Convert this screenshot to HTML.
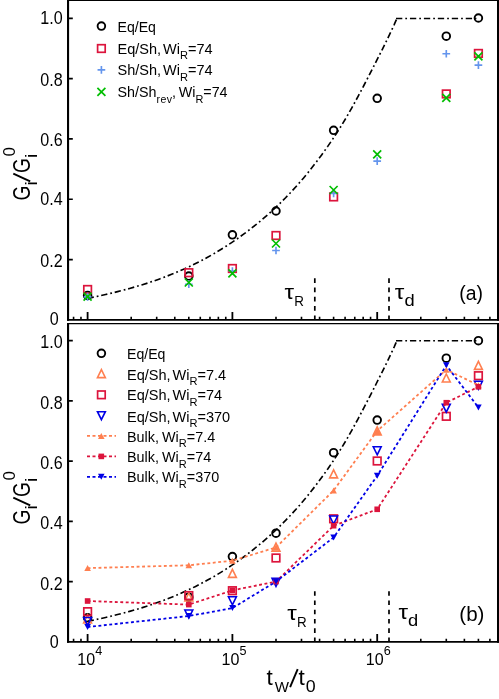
<!DOCTYPE html>
<html><head><meta charset="utf-8"><title>chart</title>
<style>
html,body{margin:0;padding:0;background:#fff;}
body{width:499px;height:699px;overflow:hidden;font-family:"Liberation Sans",sans-serif;}
svg{display:block;will-change:transform;}
</style></head><body>
<svg width="499" height="699" viewBox="0 0 499 699" font-family="Liberation Sans, sans-serif" fill="#000">
<rect width="499" height="699" fill="#fff"/>
<g id="pa">
<path d="M87.6 319.85v-7.8M232.4 319.85v-7.8M377.2 319.85v-7.8" stroke="#000" stroke-width="1.8" fill="none"/>
<path d="M73.57 319.85v-3.0M80.97 319.85v-3.0M131.19 319.85v-3.0M156.69 319.85v-3.0M174.78 319.85v-3.0M188.81 319.85v-3.0M200.28 319.85v-3.0M209.97 319.85v-3.0M218.37 319.85v-3.0M225.77 319.85v-3.0M275.99 319.85v-3.0M301.49 319.85v-3.0M319.58 319.85v-3.0M333.61 319.85v-3.0M345.08 319.85v-3.0M354.77 319.85v-3.0M363.17 319.85v-3.0M370.57 319.85v-3.0M420.79 319.85v-3.0M446.29 319.85v-3.0M464.38 319.85v-3.0M478.41 319.85v-3.0M489.88 319.85v-3.0" stroke="#000" stroke-width="1.6" fill="none"/>
<text transform="translate(58.7 324.85) scale(0.915 1)" font-size="17.6" text-anchor="end">0</text>
<text transform="translate(62.6 266.64) scale(0.915 1)" font-size="17.6" text-anchor="end">0.2</text>
<text transform="translate(62.6 205.43) scale(0.915 1)" font-size="17.6" text-anchor="end">0.4</text>
<text transform="translate(62.6 145.92) scale(0.915 1)" font-size="17.6" text-anchor="end">0.6</text>
<text transform="translate(62.6 85.61) scale(0.915 1)" font-size="17.6" text-anchor="end">0.8</text>
<text transform="translate(62.6 24.2) scale(0.915 1)" font-size="17.6" text-anchor="end">1.0</text>
<path d="M68.05 259.54H72.8M68.05 199.23H72.8M68.05 138.92H72.8M68.05 78.61H72.8M68.05 18.3H72.8" stroke="#000" stroke-width="1.7" fill="none"/>
<path d="M314.8 278.3V319.85" stroke="#000" stroke-width="1.7" stroke-dasharray="4.6 4.67" fill="none"/>
<path d="M389 278.3V319.85" stroke="#000" stroke-width="1.7" stroke-dasharray="4.6 4.67" fill="none"/>
<path d="M87.6 298.36L93.6 297.13L99.6 295.85L105.6 294.51L111.6 293.11L117.6 291.64L123.6 290.1L129.6 288.47L135.6 286.76L141.6 284.96L147.6 283.05L153.6 281.04L159.6 278.92L165.6 276.68L171.6 274.32L177.6 271.83L183.6 269.21L189.6 266.44L195.6 263.53L201.6 260.46L207.6 257.24L213.6 253.85L219.6 250.28L225.6 246.54L231.6 242.62L237.6 238.51L243.6 234.2L249.6 229.69L255.6 224.97L261.6 220.03L267.6 214.85L273.6 209.42L279.6 203.72L285.6 197.74L291.6 191.46L297.6 184.86L303.6 177.94L309.6 170.66L315.6 163L321.64 154.92L327.75 146.4L333.88 137.41L340 127.9L346.08 117.87L352.1 107.32L358.1 96.34L364.1 85.01L370.1 73.42L376.1 61.65L382.1 49.76L388.1 37.6L394.1 24.85L396.9 18.5" stroke="#000" stroke-width="1.65" fill="none" stroke-dasharray="6.3 3 1.75 2.830"/>
<path d="M396 18.5H476.4" stroke="#000" stroke-width="1.65" fill="none" stroke-dasharray="6.3 3 1.75 2.9"/>
<circle cx="87.6" cy="295.39" r="3.8" fill="none" stroke="#000000" stroke-width="1.9"/>
<circle cx="188.81" cy="276.03" r="3.8" fill="none" stroke="#000000" stroke-width="1.9"/>
<circle cx="232.4" cy="234.8" r="3.8" fill="none" stroke="#000000" stroke-width="1.9"/>
<circle cx="275.99" cy="211" r="3.8" fill="none" stroke="#000000" stroke-width="1.9"/>
<circle cx="333.61" cy="130.29" r="3.8" fill="none" stroke="#000000" stroke-width="1.9"/>
<circle cx="377.2" cy="98.31" r="3.8" fill="none" stroke="#000000" stroke-width="1.9"/>
<circle cx="446.29" cy="36.15" r="3.8" fill="none" stroke="#000000" stroke-width="1.9"/>
<circle cx="478.41" cy="18" r="3.8" fill="none" stroke="#000000" stroke-width="1.9"/>
<rect x="83.8" y="285.69" width="7.6" height="7.6" fill="none" stroke="#DC143C" stroke-width="1.7"/>
<rect x="185.01" y="268.9" width="7.6" height="7.6" fill="none" stroke="#DC143C" stroke-width="1.7"/>
<rect x="228.6" y="264.7" width="7.6" height="7.6" fill="none" stroke="#DC143C" stroke-width="1.7"/>
<rect x="272.19" y="231.7" width="7.6" height="7.6" fill="none" stroke="#DC143C" stroke-width="1.7"/>
<rect x="329.81" y="193.1" width="7.6" height="7.6" fill="none" stroke="#DC143C" stroke-width="1.7"/>
<rect x="442.49" y="90.13" width="7.6" height="7.6" fill="none" stroke="#DC143C" stroke-width="1.7"/>
<rect x="474.61" y="49.65" width="7.6" height="7.6" fill="none" stroke="#DC143C" stroke-width="1.7"/>
<path d="M83.75 296.9H91.45M87.6 293.05V300.75" stroke="#6495ED" stroke-width="1.65" fill="none"/>
<path d="M184.96 284.2H192.66M188.81 280.35V288.05" stroke="#6495ED" stroke-width="1.65" fill="none"/>
<path d="M228.55 271.01H236.25M232.4 267.16V274.86" stroke="#6495ED" stroke-width="1.65" fill="none"/>
<path d="M272.14 250.5H279.84M275.99 246.65V254.35" stroke="#6495ED" stroke-width="1.65" fill="none"/>
<path d="M329.76 193.45H337.46M333.61 189.6V197.3" stroke="#6495ED" stroke-width="1.65" fill="none"/>
<path d="M373.35 161.08H381.05M377.2 157.23V164.93" stroke="#6495ED" stroke-width="1.65" fill="none"/>
<path d="M442.44 53.76H450.14M446.29 49.91V57.61" stroke="#6495ED" stroke-width="1.65" fill="none"/>
<path d="M474.56 65.19H482.26M478.41 61.34V69.04" stroke="#6495ED" stroke-width="1.65" fill="none"/>
<path d="M83.6 292.6L91.6 300.6M83.6 300.6L91.6 292.6" stroke="#00BE00" stroke-width="1.7" fill="none"/>
<path d="M184.81 278.51L192.81 286.51M184.81 286.51L192.81 278.51" stroke="#00BE00" stroke-width="1.7" fill="none"/>
<path d="M228.4 269.31L236.4 277.31M228.4 277.31L236.4 269.31" stroke="#00BE00" stroke-width="1.7" fill="none"/>
<path d="M271.99 239.51L279.99 247.51M271.99 247.51L279.99 239.51" stroke="#00BE00" stroke-width="1.7" fill="none"/>
<path d="M329.61 186L337.61 194M329.61 194L337.61 186" stroke="#00BE00" stroke-width="1.7" fill="none"/>
<path d="M373.2 150.31L381.2 158.31M373.2 158.31L381.2 150.31" stroke="#00BE00" stroke-width="1.7" fill="none"/>
<path d="M442.29 93.86L450.29 101.86M442.29 101.86L450.29 93.86" stroke="#00BE00" stroke-width="1.7" fill="none"/>
<path d="M474.41 52.42L482.41 60.42M474.41 60.42L482.41 52.42" stroke="#00BE00" stroke-width="1.7" fill="none"/>
<path d="M68.05 -1V320.8M498.05 -1V320.8" fill="none" stroke="#000" stroke-width="2.1"/>
<path d="M67 -0.05H499" fill="none" stroke="#000" stroke-width="1.9"/>
<path d="M67 319.85H499" fill="none" stroke="#000" stroke-width="1.9"/>
<circle cx="101.4" cy="26.1" r="3.8" fill="none" stroke="#000000" stroke-width="1.9"/>
<rect x="97.6" y="44.7" width="7.6" height="7.6" fill="none" stroke="#DC143C" stroke-width="1.7"/>
<path d="M97.55 69.9H105.25M101.4 66.05V73.75" stroke="#6495ED" stroke-width="1.65" fill="none"/>
<path d="M97.4 87.9L105.4 95.9M97.4 95.9L105.4 87.9" stroke="#00BE00" stroke-width="1.7" fill="none"/>
<text transform="translate(117.5 31.6) scale(0.98 1)" font-size="14.4" word-spacing="-2.2">Eq/Eq</text>
<text transform="translate(117.5 53.7) scale(1.01 1)" font-size="14.4" word-spacing="-2.2">Eq/Sh, Wi<tspan font-size="11" dy="5.7">R</tspan><tspan dy="-5.7">=74</tspan></text>
<text transform="translate(117.5 75.3) scale(1.01 1)" font-size="14.4" word-spacing="-2.2">Sh/Sh, Wi<tspan font-size="11" dy="5.7">R</tspan><tspan dy="-5.7">=74</tspan></text>
<text transform="translate(117.5 97.3) scale(0.995 1)" font-size="14.4" word-spacing="-1.2">Sh/Sh<tspan font-size="10.6" dy="5.9" letter-spacing="0.45">rev</tspan><tspan dy="-5.9" dx="-0.6">, Wi</tspan><tspan font-size="11" dy="5.7">R</tspan><tspan dy="-5.7">=74</tspan></text>
<text transform="translate(284.6 298.6) scale(1.18 1)" font-size="20.5">&#964;</text>
<text transform="translate(294.2 305.8) scale(0.92 1)" font-size="14.6">R</text>
<text transform="translate(394.8 298.6) scale(1.18 1)" font-size="20.5">&#964;</text>
<text transform="translate(404.4 305.9) scale(1.06 1)" font-size="17.3">d</text>
<text transform="translate(459.3 299.6) scale(1 1)" font-size="19.4">(a)</text>
</g>
<g id="pb">
<path d="M87.6 641.85v-7.8M232.4 641.85v-7.8M377.2 641.85v-7.8" stroke="#000" stroke-width="1.8" fill="none"/>
<path d="M73.57 641.85v-3.0M80.97 641.85v-3.0M131.19 641.85v-3.0M156.69 641.85v-3.0M174.78 641.85v-3.0M188.81 641.85v-3.0M200.28 641.85v-3.0M209.97 641.85v-3.0M218.37 641.85v-3.0M225.77 641.85v-3.0M275.99 641.85v-3.0M301.49 641.85v-3.0M319.58 641.85v-3.0M333.61 641.85v-3.0M345.08 641.85v-3.0M354.77 641.85v-3.0M363.17 641.85v-3.0M370.57 641.85v-3.0M420.79 641.85v-3.0M446.29 641.85v-3.0M464.38 641.85v-3.0M478.41 641.85v-3.0M489.88 641.85v-3.0" stroke="#000" stroke-width="1.6" fill="none"/>
<text transform="translate(58.7 648.25) scale(0.915 1)" font-size="17.6" text-anchor="end">0</text>
<text transform="translate(62.6 589.52) scale(0.915 1)" font-size="17.6" text-anchor="end">0.2</text>
<text transform="translate(62.6 529.29) scale(0.915 1)" font-size="17.6" text-anchor="end">0.4</text>
<text transform="translate(62.6 469.06) scale(0.915 1)" font-size="17.6" text-anchor="end">0.6</text>
<text transform="translate(62.6 409.03) scale(0.915 1)" font-size="17.6" text-anchor="end">0.8</text>
<text transform="translate(62.6 347.8) scale(0.915 1)" font-size="17.6" text-anchor="end">1.0</text>
<path d="M68.05 581.62H72.8M68.05 521.39H72.8M68.05 461.16H72.8M68.05 400.93H72.8M68.05 340.7H72.8" stroke="#000" stroke-width="1.7" fill="none"/>
<path d="M314.8 591.2V641.85" stroke="#000" stroke-width="1.7" stroke-dasharray="4.6 4.67" fill="none"/>
<path d="M389 591.2V641.85" stroke="#000" stroke-width="1.7" stroke-dasharray="4.6 4.67" fill="none"/>
<path d="M87.6 621.31L93.6 620.07L99.6 618.79L105.6 617.45L111.6 616.04L117.6 614.57L123.6 613.03L129.6 611.39L135.6 609.68L141.6 607.87L147.6 605.96L153.6 603.94L159.6 601.82L165.6 599.57L171.6 597.21L177.6 594.71L183.6 592.08L189.6 589.31L195.6 586.39L201.6 583.31L207.6 580.08L213.6 576.69L219.6 573.11L225.6 569.36L231.6 565.43L237.6 561.31L243.6 556.99L249.6 552.46L255.6 547.73L261.6 542.78L267.6 537.59L273.6 532.14L279.6 526.43L285.6 520.43L291.6 514.14L297.6 507.52L303.6 500.59L309.6 493.29L315.6 485.61L321.64 477.51L327.75 468.97L333.88 459.95L340 450.42L346.08 440.37L352.1 429.79L358.1 418.78L364.1 407.42L370.1 395.8L376.1 384L382.1 372.08L388.1 359.89L394.1 347.11L396.9 340.75" stroke="#000" stroke-width="1.65" fill="none" stroke-dasharray="6.3 3 1.75 2.830"/>
<path d="M396 340.75H476.4" stroke="#000" stroke-width="1.65" fill="none" stroke-dasharray="6.3 3 1.75 2.9"/>
<circle cx="87.6" cy="617.8" r="3.8" fill="none" stroke="#000000" stroke-width="1.9"/>
<circle cx="188.81" cy="597.18" r="3.8" fill="none" stroke="#000000" stroke-width="1.9"/>
<circle cx="232.4" cy="556.6" r="3.8" fill="none" stroke="#000000" stroke-width="1.9"/>
<circle cx="275.99" cy="533.2" r="3.8" fill="none" stroke="#000000" stroke-width="1.9"/>
<circle cx="333.61" cy="452.7" r="3.8" fill="none" stroke="#000000" stroke-width="1.9"/>
<circle cx="377.2" cy="420.11" r="3.8" fill="none" stroke="#000000" stroke-width="1.9"/>
<circle cx="446.29" cy="358.18" r="3.8" fill="none" stroke="#000000" stroke-width="1.9"/>
<circle cx="478.41" cy="340.69" r="3.8" fill="none" stroke="#000000" stroke-width="1.9"/>
<path d="M87.6 614.89L91.55 622.89L83.65 622.89Z" stroke="#FF7F50" stroke-width="1.6" fill="none" stroke-linejoin="miter"/>
<path d="M188.81 593L192.76 601L184.86 601Z" stroke="#FF7F50" stroke-width="1.6" fill="none" stroke-linejoin="miter"/>
<path d="M232.4 569.39L236.35 577.39L228.45 577.39Z" stroke="#FF7F50" stroke-width="1.6" fill="none" stroke-linejoin="miter"/>
<path d="M275.99 543.13L279.94 551.13L272.04 551.13Z" stroke="#FF7F50" stroke-width="1.6" fill="none" stroke-linejoin="miter"/>
<path d="M333.61 469.87L337.56 477.87L329.66 477.87Z" stroke="#FF7F50" stroke-width="1.6" fill="none" stroke-linejoin="miter"/>
<path d="M377.2 426.9L381.15 434.9L373.25 434.9Z" stroke="#FF7F50" stroke-width="1.6" fill="none" stroke-linejoin="miter"/>
<path d="M446.29 373.99L450.24 381.99L442.34 381.99Z" stroke="#FF7F50" stroke-width="1.6" fill="none" stroke-linejoin="miter"/>
<path d="M478.41 361.42L482.36 369.42L474.46 369.42Z" stroke="#FF7F50" stroke-width="1.6" fill="none" stroke-linejoin="miter"/>
<rect x="83.8" y="607.85" width="7.6" height="7.6" fill="none" stroke="#DC143C" stroke-width="1.7"/>
<rect x="185.01" y="591.78" width="7.6" height="7.6" fill="none" stroke="#DC143C" stroke-width="1.7"/>
<rect x="228.6" y="586.9" width="7.6" height="7.6" fill="none" stroke="#DC143C" stroke-width="1.7"/>
<rect x="272.19" y="554.18" width="7.6" height="7.6" fill="none" stroke="#DC143C" stroke-width="1.7"/>
<rect x="329.81" y="514.99" width="7.6" height="7.6" fill="none" stroke="#DC143C" stroke-width="1.7"/>
<rect x="373.4" y="457.19" width="7.6" height="7.6" fill="none" stroke="#DC143C" stroke-width="1.7"/>
<rect x="442.49" y="412.51" width="7.6" height="7.6" fill="none" stroke="#DC143C" stroke-width="1.7"/>
<rect x="474.61" y="371.9" width="7.6" height="7.6" fill="none" stroke="#DC143C" stroke-width="1.7"/>
<path d="M87.6 625.45L91.55 617.45L83.65 617.45Z" stroke="#0000E6" stroke-width="1.6" fill="none" stroke-linejoin="miter"/>
<path d="M188.81 618.06L192.76 610.06L184.86 610.06Z" stroke="#0000E6" stroke-width="1.6" fill="none" stroke-linejoin="miter"/>
<path d="M232.4 604.8L236.35 596.8L228.45 596.8Z" stroke="#0000E6" stroke-width="1.6" fill="none" stroke-linejoin="miter"/>
<path d="M275.99 586.41L279.94 578.41L272.04 578.41Z" stroke="#0000E6" stroke-width="1.6" fill="none" stroke-linejoin="miter"/>
<path d="M333.61 524L337.56 516L329.66 516Z" stroke="#0000E6" stroke-width="1.6" fill="none" stroke-linejoin="miter"/>
<path d="M377.2 454.8L381.15 446.8L373.25 446.8Z" stroke="#0000E6" stroke-width="1.6" fill="none" stroke-linejoin="miter"/>
<path d="M446.29 412.2L450.24 404.2L442.34 404.2Z" stroke="#0000E6" stroke-width="1.6" fill="none" stroke-linejoin="miter"/>
<path d="M478.41 389.23L482.36 381.23L474.46 381.23Z" stroke="#0000E6" stroke-width="1.6" fill="none" stroke-linejoin="miter"/>
<path d="M87.6 568.11L188.81 565.31L232.4 560.7L275.99 547.43L333.61 490.45L377.2 430.9L446.29 369.7L478.41 385.23" stroke="#FF7F50" stroke-width="1.8" stroke-dasharray="2.9 2.55" fill="none" stroke-linejoin="round"/>
<path d="M87.6 565.11L90.9 571.11L84.3 571.11Z" fill="#FF7F50"/>
<path d="M188.81 562.31L192.11 568.31L185.51 568.31Z" fill="#FF7F50"/>
<path d="M232.4 557.7L235.7 563.7L229.1 563.7Z" fill="#FF7F50"/>
<path d="M275.99 544.43L279.29 550.43L272.69 550.43Z" fill="#FF7F50"/>
<path d="M333.61 487.45L336.91 493.45L330.31 493.45Z" fill="#FF7F50"/>
<path d="M377.2 427.9L380.5 433.9L373.9 433.9Z" fill="#FF7F50"/>
<path d="M446.29 366.7L449.59 372.7L442.99 372.7Z" fill="#FF7F50"/>
<path d="M478.41 382.23L481.71 388.23L475.11 388.23Z" fill="#FF7F50"/>
<path d="M87.6 601.01L188.81 604.6L232.4 590.4L275.99 581.59L333.61 525.72L377.2 509.29L446.29 402.71L478.41 386.79" stroke="#DC143C" stroke-width="1.8" stroke-dasharray="2.9 2.55" fill="none" stroke-linejoin="round"/>
<rect x="84.8" y="598.21" width="5.6" height="5.6" fill="#DC143C"/>
<rect x="186.01" y="601.8" width="5.6" height="5.6" fill="#DC143C"/>
<rect x="229.6" y="587.6" width="5.6" height="5.6" fill="#DC143C"/>
<rect x="273.19" y="578.79" width="5.6" height="5.6" fill="#DC143C"/>
<rect x="330.81" y="522.92" width="5.6" height="5.6" fill="#DC143C"/>
<rect x="374.4" y="506.49" width="5.6" height="5.6" fill="#DC143C"/>
<rect x="443.49" y="399.91" width="5.6" height="5.6" fill="#DC143C"/>
<rect x="475.61" y="383.99" width="5.6" height="5.6" fill="#DC143C"/>
<path d="M87.6 627.03L188.81 616.02L232.4 608.12L275.99 581.59L333.61 537.48L377.2 475.8L446.29 365.33L478.41 407.42" stroke="#0000E6" stroke-width="1.8" stroke-dasharray="2.9 2.55" fill="none" stroke-linejoin="round"/>
<path d="M87.6 630.03L90.9 624.03L84.3 624.03Z" fill="#0000E6"/>
<path d="M188.81 619.02L192.11 613.02L185.51 613.02Z" fill="#0000E6"/>
<path d="M232.4 611.12L235.7 605.12L229.1 605.12Z" fill="#0000E6"/>
<path d="M275.99 584.59L279.29 578.59L272.69 578.59Z" fill="#0000E6"/>
<path d="M333.61 540.48L336.91 534.48L330.31 534.48Z" fill="#0000E6"/>
<path d="M377.2 478.8L380.5 472.8L373.9 472.8Z" fill="#0000E6"/>
<path d="M446.29 368.33L449.59 362.33L442.99 362.33Z" fill="#0000E6"/>
<path d="M478.41 410.42L481.71 404.42L475.11 404.42Z" fill="#0000E6"/>
<path d="M68.05 322.9V642.8M498.05 322.9V642.8" fill="none" stroke="#000" stroke-width="2.1"/>
<path d="M67 323.55H499" fill="none" stroke="#000" stroke-width="1.3"/>
<path d="M67 641.85H499" fill="none" stroke="#000" stroke-width="1.9"/>
<circle cx="101.4" cy="353.3" r="3.8" fill="none" stroke="#000000" stroke-width="1.9"/>
<path d="M101.4 369.6L105.35 377.6L97.45 377.6Z" stroke="#FF7F50" stroke-width="1.6" fill="none" stroke-linejoin="miter"/>
<rect x="97.6" y="391" width="7.6" height="7.6" fill="none" stroke="#DC143C" stroke-width="1.7"/>
<path d="M101.4 419.7L105.35 411.7L97.45 411.7Z" stroke="#0000E6" stroke-width="1.6" fill="none" stroke-linejoin="miter"/>
<path d="M87 435.9H116" stroke="#FF7F50" stroke-width="1.8" stroke-dasharray="3 2.5" fill="none"/>
<path d="M101.3 432.9L104.6 438.9L98 438.9Z" fill="#FF7F50"/>
<path d="M87 456.4H116" stroke="#DC143C" stroke-width="1.8" stroke-dasharray="3 2.5" fill="none"/>
<rect x="98.5" y="453.6" width="5.6" height="5.6" fill="#DC143C"/>
<path d="M87 476.8H116" stroke="#0000E6" stroke-width="1.8" stroke-dasharray="3 2.5" fill="none"/>
<path d="M101.3 479.8L104.6 473.8L98 473.8Z" fill="#0000E6"/>
<text transform="translate(127 359.3) scale(0.98 1)" font-size="14.4" word-spacing="-2.2">Eq/Eq</text>
<text transform="translate(127 379.5) scale(1.01 1)" font-size="14.4" word-spacing="-2.2">Eq/Sh, Wi<tspan font-size="11" dy="5.7">R</tspan><tspan dy="-5.7">=7.4</tspan></text>
<text transform="translate(127 400.3) scale(1.01 1)" font-size="14.4" word-spacing="-2.2">Eq/Sh, Wi<tspan font-size="11" dy="5.7">R</tspan><tspan dy="-5.7">=74</tspan></text>
<text transform="translate(127 421.5) scale(1.01 1)" font-size="14.4" word-spacing="-2.2">Eq/Sh, Wi<tspan font-size="11" dy="5.7">R</tspan><tspan dy="-5.7">=370</tspan></text>
<text transform="translate(127 441.7) scale(1 1)" font-size="14.4" word-spacing="-1.0">Bulk, Wi<tspan font-size="11" dy="5.7">R</tspan><tspan dy="-5.7">=7.4</tspan></text>
<text transform="translate(127 462) scale(1 1)" font-size="14.4" word-spacing="-1.0">Bulk, Wi<tspan font-size="11" dy="5.7">R</tspan><tspan dy="-5.7">=74</tspan></text>
<text transform="translate(127 482.4) scale(1 1)" font-size="14.4" word-spacing="-1.0">Bulk, Wi<tspan font-size="11" dy="5.7">R</tspan><tspan dy="-5.7">=370</tspan></text>
<text transform="translate(287.2 619.7) scale(1.18 1)" font-size="20.5">&#964;</text>
<text transform="translate(297 627) scale(0.92 1)" font-size="14.6">R</text>
<text transform="translate(398.4 618.7) scale(1.18 1)" font-size="20.5">&#964;</text>
<text transform="translate(408 626) scale(1.06 1)" font-size="17.3">d</text>
<text transform="translate(459.3 620.6) scale(1.06 1)" font-size="19.4">(b)</text>
<text transform="translate(77.3 664.75) scale(0.94 1)" font-size="17.1">10</text>
<text transform="translate(95.2 655) scale(1 1)" font-size="12.6">4</text>
<text transform="translate(221.55 664.75) scale(0.94 1)" font-size="17.1">10</text>
<text transform="translate(239.45 655) scale(1 1)" font-size="12.6">5</text>
<text transform="translate(365.8 664.75) scale(0.94 1)" font-size="17.1">10</text>
<text transform="translate(383.7 655) scale(1 1)" font-size="12.6">6</text>
<text transform="translate(266.4 685.2) scale(1 1)" font-size="22.5">t</text>
<text transform="translate(274.8 692.3) scale(1 1)" font-size="15.1">W</text>
<path d="M290.1 687.1L297.7 669.1" stroke="#000" stroke-width="1.9" fill="none"/>
<text transform="translate(298.6 685.2) scale(1 1)" font-size="22.5">t</text>
<text transform="translate(305.8 692.3) scale(1.12 1)" font-size="15.9">0</text>
</g>
<text transform="translate(29.5 200.4) rotate(-90) scale(0.81 1)" font-size="23.5">G</text>
<text transform="translate(36.7 185.4) rotate(-90) scale(1.15 1)" font-size="16.9">i</text>
<path d="M30.2 181.4L13.3 173.7" stroke="#000" stroke-width="1.9" fill="none"/>
<text transform="translate(29.5 173) rotate(-90) scale(0.81 1)" font-size="23.5">G</text>
<text transform="translate(36.7 157.9) rotate(-90) scale(1.15 1)" font-size="16.9">i</text>
<text transform="translate(15.3 156.6) rotate(-90) scale(1 1)" font-size="17">0</text>
<text transform="translate(29.5 524.4) rotate(-90) scale(0.81 1)" font-size="23.5">G</text>
<text transform="translate(36.7 509.4) rotate(-90) scale(1.15 1)" font-size="16.9">i</text>
<path d="M30.2 505.4L13.3 497.7" stroke="#000" stroke-width="1.9" fill="none"/>
<text transform="translate(29.5 497) rotate(-90) scale(0.81 1)" font-size="23.5">G</text>
<text transform="translate(36.7 481.9) rotate(-90) scale(1.15 1)" font-size="16.9">i</text>
<text transform="translate(15.3 480.6) rotate(-90) scale(1 1)" font-size="17">0</text>
</svg>
</body></html>
